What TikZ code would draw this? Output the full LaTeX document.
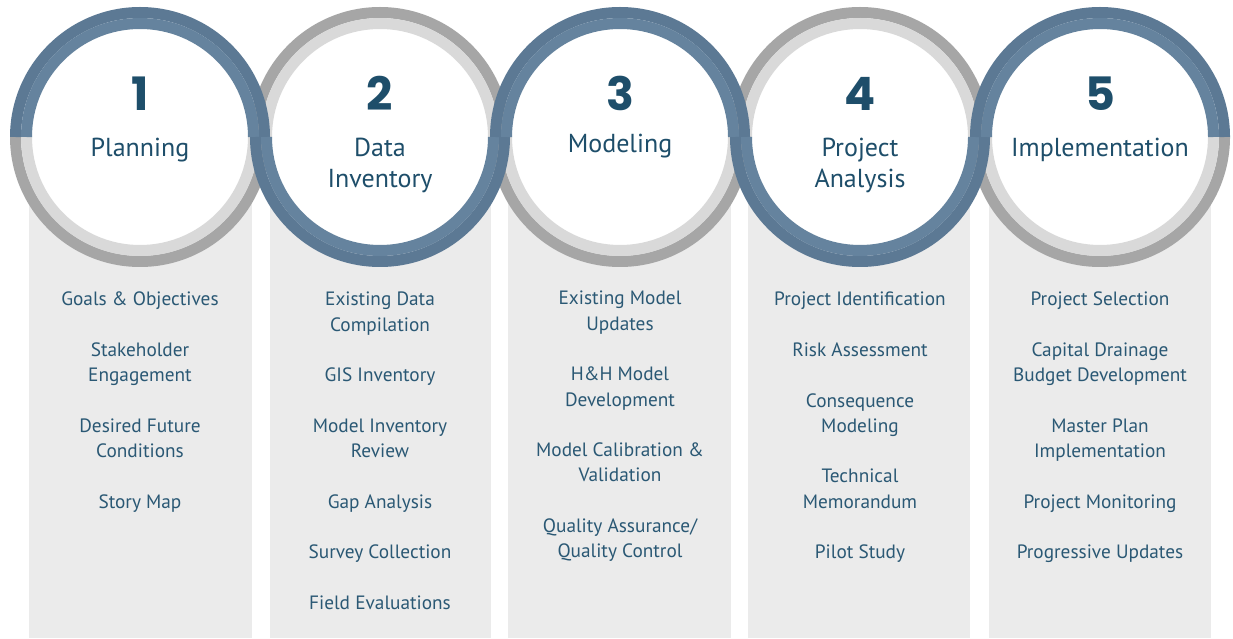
\documentclass[tikz,border=0pt]{standalone}
\usepackage{fontspec}
\usepackage{tikz}
\usepackage{xcolor}
\setmainfont{PT Sans}
\newfontfamily\numfont{Poppins}
\usetikzlibrary{positioning}
\definecolor{ringblue}{RGB}{92, 121, 148}
\definecolor{ringbluelt}{RGB}{101, 131, 158}
\definecolor{ringgray}{RGB}{166, 166, 166}
\definecolor{ringgraylt}{RGB}{217, 217, 217}
\definecolor{colgray}{RGB}{235, 235, 235}
\definecolor{stepnum}{RGB}{30, 78, 106}
\definecolor{steptext}{RGB}{42, 88, 116}
\tikzset{
    stagecol/.style={fill=colgray},
    outerband/.style={line width=11pt},
    innerband/.style={line width=11pt},
    numlabel/.style={font=\numfont\bfseries\fontsize{46}{46}\selectfont, text=stepnum, inner sep=0pt},
    titlelabel/.style={font=\fontsize{26}{31}\selectfont, text=stepnum, align=center, inner sep=0pt},
    tasklist/.style={font=\fontsize{19.3}{25.3}\selectfont, text=steptext, align=center, anchor=north, inner sep=0pt}
}
\newcommand{\itemgap}{\\[25.3pt]}

\begin{document}
\begin{tikzpicture}[x=1pt, y=1pt]
    \useasboundingbox[fill=white] (0,0) rectangle (1233,638);
    % ring centres
    \coordinate (c1) at (140,501);
    \coordinate (c2) at (380,501);
    \coordinate (c3) at (620,501);
    \coordinate (c4) at (860,501);
    \coordinate (c5) at (1100,501);
    % grey columns under the rings
    \fill[stagecol] (29,0) rectangle (252,501);
    \fill[stagecol] (270,0) rectangle (491,501);
    \fill[stagecol] (508,0) rectangle (731,501);
    \fill[stagecol] (748,0) rectangle (970,501);
    \fill[stagecol] (989,0) rectangle (1211,501);
    \fill[white] (c1) circle (110pt);
    \fill[white] (c2) circle (110pt);
    \fill[white] (c3) circle (110pt);
    \fill[white] (c4) circle (110pt);
    \fill[white] (c5) circle (110pt);
    % grey halves
    \draw[outerband, ringgray] (c1) ++(180:124.5pt) arc (180:360:124.5pt);
    \draw[innerband, ringgraylt] (c1) ++(180:113.5pt) arc (180:360:113.5pt);
    \draw[outerband, ringgray] (c2) ++(0:124.5pt) arc (0:180:124.5pt);
    \draw[innerband, ringgraylt] (c2) ++(0:113.5pt) arc (0:180:113.5pt);
    \draw[outerband, ringgray] (c3) ++(180:124.5pt) arc (180:360:124.5pt);
    \draw[innerband, ringgraylt] (c3) ++(180:113.5pt) arc (180:360:113.5pt);
    \draw[outerband, ringgray] (c4) ++(0:124.5pt) arc (0:180:124.5pt);
    \draw[innerband, ringgraylt] (c4) ++(0:113.5pt) arc (0:180:113.5pt);
    \draw[outerband, ringgray] (c5) ++(180:124.5pt) arc (180:360:124.5pt);
    \draw[innerband, ringgraylt] (c5) ++(180:113.5pt) arc (180:360:113.5pt);
    % blue halves, weaving over the grey
    \draw[outerband, ringblue] (c1) ++(0:124.5pt) arc (0:180:124.5pt);
    \draw[innerband, ringbluelt] (c1) ++(0:113.5pt) arc (0:180:113.5pt);
    \draw[outerband, ringblue] (c2) ++(180:124.5pt) arc (180:360:124.5pt);
    \draw[innerband, ringbluelt] (c2) ++(180:113.5pt) arc (180:360:113.5pt);
    \draw[outerband, ringblue] (c3) ++(0:124.5pt) arc (0:180:124.5pt);
    \draw[innerband, ringbluelt] (c3) ++(0:113.5pt) arc (0:180:113.5pt);
    \draw[outerband, ringblue] (c4) ++(180:124.5pt) arc (180:360:124.5pt);
    \draw[innerband, ringbluelt] (c4) ++(180:113.5pt) arc (180:360:113.5pt);
    \draw[outerband, ringblue] (c5) ++(0:124.5pt) arc (0:180:124.5pt);
    \draw[innerband, ringbluelt] (c5) ++(0:113.5pt) arc (0:180:113.5pt);
    % step numbers and titles
    \node[numlabel] (num1) at (140,544.5) {1};
    \node[numlabel] (num2) at (380,544.5) {2};
    \node[numlabel] (num3) at (620,544.5) {3};
    \node[numlabel] (num4) at (860,544.5) {4};
    \node[numlabel] (num5) at (1100,544.5) {5};
    \node[titlelabel] (planning) at (140,487.5) {Planning};
    \node[titlelabel] (inventory) at (380,473) {Data\\Inventory};
    \node[titlelabel] (modeling) at (620,491.5) {Modeling};
    \node[titlelabel] (analysis) at (860,473) {Project\\Analysis};
    \node[titlelabel] (implement) at (1100,488.5) {Implementation};
    % task lists
    \node[tasklist] (tasks1) at (140,346) {Goals \& Objectives\itemgap
        Stakeholder\\Engagement\itemgap
        Desired Future\\Conditions\itemgap
        Story Map};
    \node[tasklist] (tasks2) at (380,346) {Existing Data\\Compilation\itemgap
        GIS Inventory\itemgap
        Model Inventory\\Review\itemgap
        Gap Analysis\itemgap
        Survey Collection\itemgap
        Field Evaluations};
    \node[tasklist] (tasks3) at (620,347) {Existing Model\\Updates\itemgap
        H\&H Model\\Development\itemgap
        Model Calibration \&\\Validation\itemgap
        Quality Assurance/\\Quality Control};
    \node[tasklist] (tasks4) at (860,346) {Project Identification\itemgap
        Risk Assessment\itemgap
        Consequence\\Modeling\itemgap
        Technical\\Memorandum\itemgap
        Pilot Study};
    \node[tasklist] (tasks5) at (1100,346) {Project Selection\itemgap
        Capital Drainage\\Budget Development\itemgap
        Master Plan\\Implementation\itemgap
        Project Monitoring\itemgap
        Progressive Updates};
\end{tikzpicture}
\end{document}
